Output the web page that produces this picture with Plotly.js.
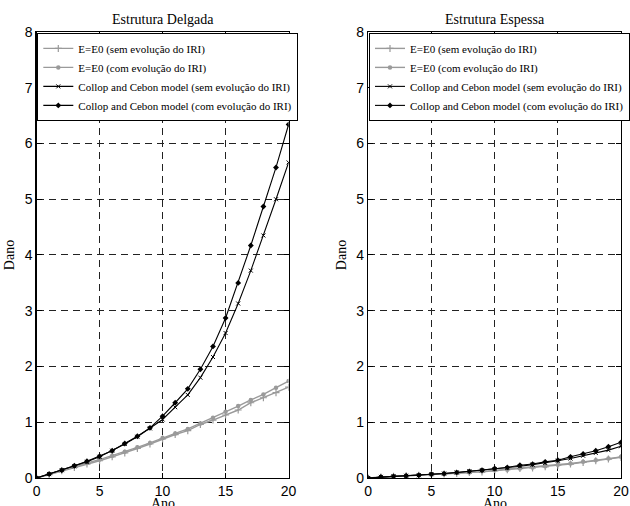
<!DOCTYPE html>
<html>
<head>
<meta charset="utf-8">
<script src="https://cdn.plot.ly/plotly-3.0.1.min.js"></script>
<style>html,body{margin:0;padding:0;background:#fff}#chart{width:630px;height:506px}</style>
</head>
<body>
<div id="chart"></div>
<script>
var anos = [0,1,2,3,4,5,6,7,8,9,10,11,12,13,14,15,16,17,18,19,20];
var seriesNames = [
  "E=E0 (sem evolução do IRI)",
  "E=E0 (com evolução do IRI)",
  "Collop and Cebon model (sem evolução do IRI)",
  "Collop and Cebon model (com evolução do IRI)"
];
// Estrutura Delgada
var delgadaE0Sem = [0,0.06,0.13,0.19,0.25,0.31,0.38,0.45,0.53,0.61,0.70,0.78,0.85,0.96,1.04,1.13,1.22,1.35,1.44,1.53,1.63];
var delgadaE0Com = [0,0.07,0.14,0.21,0.27,0.33,0.40,0.47,0.55,0.63,0.72,0.80,0.88,0.98,1.08,1.19,1.29,1.40,1.50,1.62,1.74];
var delgadaCCSem = [0,0.07,0.14,0.21,0.29,0.38,0.49,0.61,0.74,0.89,1.05,1.27,1.49,1.80,2.17,2.60,3.13,3.72,4.35,5.00,5.66];
var delgadaCCCom = [0,0.07,0.14,0.22,0.30,0.39,0.49,0.62,0.75,0.90,1.11,1.35,1.60,1.95,2.36,2.87,3.50,4.17,4.87,5.57,6.34];
// Estrutura Espessa
var espessaE0Sem = [0,0.02,0.03,0.04,0.05,0.06,0.07,0.08,0.10,0.11,0.13,0.15,0.17,0.18,0.20,0.23,0.25,0.28,0.31,0.34,0.37];
var espessaE0Com = [0,0.02,0.03,0.04,0.05,0.06,0.07,0.09,0.10,0.12,0.14,0.15,0.17,0.19,0.21,0.24,0.26,0.29,0.32,0.35,0.38];
var espessaCCSem = [0,0.02,0.03,0.04,0.05,0.07,0.08,0.10,0.12,0.14,0.16,0.18,0.21,0.24,0.27,0.31,0.35,0.40,0.45,0.50,0.57];
var espessaCCCom = [0,0.02,0.03,0.04,0.05,0.07,0.08,0.10,0.12,0.14,0.17,0.19,0.23,0.25,0.29,0.32,0.38,0.43,0.49,0.56,0.64];
var xTicks = [0,5,10,15,20];
var yTicks = [0,1,2,3,4,5,6,7,8];
var titles = ["Estrutura Delgada","Estrutura Espessa"];
var xLabel = "Ano", yLabel = "Dano";

var GRAY = "#9a9a9a", BLACK = "#000000";
var styles = [
  {color: GRAY, symbol: "cross-thin", size: 5, mlw: 1.2},
  {color: GRAY, symbol: "circle", size: 4.5, mlw: 0},
  {color: BLACK, symbol: "x-thin", size: 4, mlw: 1},
  {color: BLACK, symbol: "diamond", size: 4.5, mlw: 0}
];
function mk(y, i, xa, ya, leg) {
  var s = styles[i];
  return {
    x: anos, y: y, name: seriesNames[i], type: "scatter", mode: "lines+markers",
    xaxis: xa, yaxis: ya, legend: leg,
    line: {color: s.color, width: i < 2 ? 1.4 : 1.1},
    marker: {color: s.color, symbol: s.symbol, size: s.size, line: {color: s.color, width: s.mlw}}
  };
}
var left = [delgadaE0Sem, delgadaE0Com, delgadaCCSem, delgadaCCCom];
var right = [espessaE0Sem, espessaE0Com, espessaCCSem, espessaCCCom];
var data = [];
left.forEach(function(y,i){ data.push(mk(y,i,"x","y","legend")); });
right.forEach(function(y,i){ data.push(mk(y,i,"x2","y2","legend2")); });

var SERIF = "'Liberation Serif', 'Times New Roman', Times, serif";
var tickFont = {family: "'Liberation Sans', Arial, sans-serif", size: 14, color: "#000"};
var serif = {family: SERIF, size: 14, color: "#000"};
function xa(dom, anchor) {
  return {domain: dom, anchor: anchor, range: [0,20], tickvals: xTicks, ticks: "inside", ticklen: 5,
    tickcolor: "#000", showline: true, linecolor: "#000", linewidth: 1.3, mirror: "ticks",
    showgrid: true, gridcolor: "#222", griddash: "7px,5px", gridwidth: 1, zeroline: false,
    automargin: false, tickfont: tickFont};
}
function ya(anchor) {
  return {domain: [0.0553, 0.9368], anchor: anchor, range: [0,8], tickvals: yTicks, ticks: "inside", ticklen: 5,
    tickcolor: "#000", showline: true, linecolor: "#000", linewidth: 1.3, mirror: "ticks",
    showgrid: true, gridcolor: "#222", griddash: "7px,5px", gridwidth: 1, zeroline: false,
    automargin: false, tickfont: tickFont, title: {text: yLabel, font: serif, standoff: 6}};
}
var legendCommon = {yanchor: "top", xanchor: "left", bgcolor: "#fff", bordercolor: "#000", borderwidth: 1,
  font: {family: SERIF, size: 11, color: "#000"}, itemwidth: 30, tracegroupgap: 0};
function ann(text, x, y, xanchor, yanchor) {
  return {text: text, xref: "paper", yref: "paper", x: x, y: y, xanchor: xanchor, yanchor: yanchor,
    showarrow: false, font: serif};
}
var layout = {
  width: 630, height: 506, paper_bgcolor: "#fff", plot_bgcolor: "#fff",
  margin: {l: 0, r: 0, t: 0, b: 0}, showlegend: true,
  xaxis: xa([0.0583, 0.4603], "y"),
  yaxis: ya("x"),
  xaxis2: xa([0.5873, 0.9905], "y2"),
  yaxis2: ya("x2"),
  legend: Object.assign({x: 0.0595, y: 0.935}, legendCommon),
  legend2: Object.assign({x: 0.5885, y: 0.935}, legendCommon),
  annotations: [
    ann(titles[0], 0.2593, 0.9605, "center", "middle"),
    ann(titles[1], 0.7889, 0.9605, "center", "middle"),
    ann(xLabel, 0.2593, 0.0237, "center", "top"),
    ann(xLabel, 0.7889, 0.0237, "center", "top")
  ]
};
Plotly.newPlot("chart", data, layout, {displayModeBar: false, staticPlot: true});
</script>
</body>
</html>
